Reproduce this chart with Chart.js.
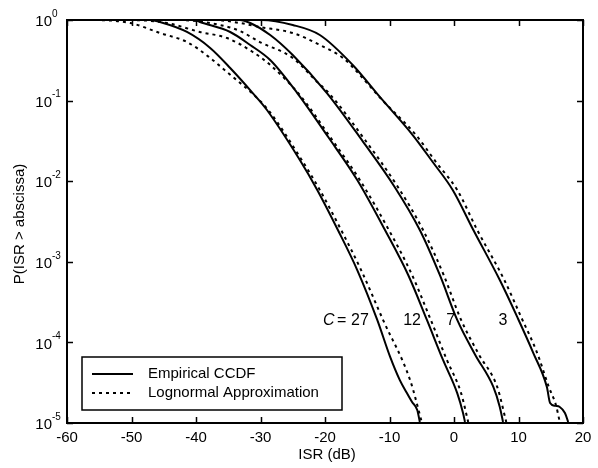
<!DOCTYPE html>
<html>
<head>
<meta charset="utf-8">
<script src="https://cdn.jsdelivr.net/npm/chart.js@4.4.0/dist/chart.umd.min.js"></script>
<style>
  html, body { margin: 0; padding: 0; background: #fff; }
  canvas { display: block; }
</style>
</head>
<body>
<canvas id="chart" width="598" height="468"></canvas>
<script>
// axis ticks
const xTicks = [-60, -50, -40, -30, -20, -10, 0, 10, 20];
const yTicks = [1, 1e-1, 1e-2, 1e-3, 1e-4, 1e-5];
const yTickExp = ['0', '-1', '-2', '-3', '-4', '-5'];

// C = 27
const c27EmpX = [-60, -47.1, -45.6, -41.4, -37.8, -34.7, -31.2, -29.0, -23.9, -21.2, -18.0, -15.0, -11.9, -9.9, -8.4, -7.3, -6.5, -5.7, -5.3];
const c27EmpP = [1, 1, 0.944, 0.71, 0.45, 0.254, 0.124, 0.0764, 0.0183, 0.00778, 0.00248, 0.00079, 0.00019, 6.6e-5, 3.4e-5, 2.35e-5, 1.82e-5, 1.45e-5, 1.03e-5];
const c27LogX = [-60, -55.7, -50.2, -45.6, -41.4, -37.8, -35.2, -31.2, -28.8, -23.6, -20.8, -17.5, -14.4, -11.0, -6.8, -5.0];
const c27LogP = [1, 0.998, 0.918, 0.69, 0.533, 0.338, 0.226, 0.121, 0.0764, 0.0183, 0.00778, 0.00248, 0.00079, 0.00019, 3.4e-5, 1.03e-5];

// C = 12
const c12EmpX = [-60, -40.2, -39.4, -34.7, -31.6, -28.5, -24.3, -19.5, -15.0, -10.7, -7.1, -4.2, -1.7, 0.5, 1.4, 1.7];
const c12EmpP = [1, 1, 0.944, 0.71, 0.49, 0.319, 0.124, 0.0353, 0.01035, 0.00248, 0.000686, 0.00019, 6.05e-5, 2.35e-5, 1.33e-5, 1.03e-5];
const c12LogX = [-60, -50.2, -44.5, -39.4, -35.2, -31.2, -28.5, -23.9, -19.2, -14.6, -10.1, -6.5, -3.6, -1.1, 1.1, 2.2];
const c12LogP = [1, 0.998, 0.918, 0.71, 0.598, 0.401, 0.277, 0.117, 0.0353, 0.01035, 0.00248, 0.000686, 0.00019, 6.05e-5, 2.35e-5, 1.03e-5];

// C = 7
const c7EmpX = [-60, -33.2, -31.6, -28.5, -25.0, -19.7, -14.3, -9.2, -5.3, -2.2, 0.5, 3.3, 6.1, 7.1, 7.6];
const c7EmpP = [1, 1, 0.918, 0.652, 0.368, 0.124, 0.0325, 0.00848, 0.00248, 0.000686, 0.00019, 6.98e-5, 2.8e-5, 1.58e-5, 1.03e-5];
const c7LogX = [-60, -42.5, -36.3, -33.2, -30.1, -25.0, -21.2, -19.4, -13.8, -8.7, -4.8, -1.6, 1.1, 3.9, 6.7, 8.1];
const c7LogP = [1, 0.998, 0.867, 0.731, 0.533, 0.338, 0.17, 0.124, 0.0325, 0.00848, 0.00248, 0.000686, 0.00019, 6.98e-5, 2.8e-5, 1.03e-5];

// C = 3
const c3EmpX = [-60, -29.8, -25.0, -20.8, -15.7, -11.5, -6.4, -3.3, -0.2, 3.0, 7.1, 9.8, 12.3, 14.4, 14.9, 15.7, 16.4, 17.2, 17.7];
const c3EmpP = [1, 1, 0.867, 0.652, 0.277, 0.111, 0.0374, 0.0173, 0.00778, 0.00248, 0.000594, 0.000207, 7.38e-5, 2.8e-5, 1.77e-5, 1.63e-5, 1.58e-5, 1.33e-5, 1.03e-5];
const c3LogX = [-60, -37.1, -33.2, -30.1, -25.0, -20.8, -17.2, -15.0, -11.3, -5.9, -2.8, 0.5, 3.6, 7.8, 10.4, 12.9, 14.7, 15.8, 16.4];
const c3LogP = [1, 0.998, 0.918, 0.819, 0.69, 0.49, 0.338, 0.226, 0.105, 0.0374, 0.0173, 0.00778, 0.00248, 0.000594, 0.000207, 7.38e-5, 2.8e-5, 1.67e-5, 1.03e-5];

const curveLabels = ['27', '12', '7', '3'];
const legendLabels = ['Empirical CCDF', 'Lognormal Approximation'];

const FONT = '"Liberation Sans", Arial, Helvetica, sans-serif';
const DOTS = [3, 4];

function pts(xs, ps) {
  return xs.map((x, i) => ({ x: x, y: ps[i] }));
}

function solid(xs, ps) {
  return { data: pts(xs, ps), borderColor: '#000', borderWidth: 2, pointRadius: 0, showLine: true,
           cubicInterpolationMode: 'monotone' };
}

function dotted(xs, ps) {
  return { data: pts(xs, ps), borderColor: '#000', borderWidth: 2, borderDash: DOTS, pointRadius: 0, showLine: true,
           cubicInterpolationMode: 'monotone' };
}

const decor = {
  id: 'decor',
  afterDraw(chart) {
    const ctx = chart.ctx;
    const a = chart.chartArea;
    const xs = chart.scales.x, ys = chart.scales.y;
    ctx.save();
    ctx.fillStyle = '#000';
    ctx.strokeStyle = '#000';

    // box + inward ticks
    ctx.lineWidth = 2;
    ctx.strokeRect(a.left, a.top, a.right - a.left, a.bottom - a.top);
    ctx.lineWidth = 1.5;
    ctx.beginPath();
    xTicks.forEach(v => {
      const px = Math.round(xs.getPixelForValue(v)) + 0.5;
      ctx.moveTo(px, a.bottom); ctx.lineTo(px, a.bottom - 6);
      ctx.moveTo(px, a.top); ctx.lineTo(px, a.top + 6);
    });
    yTicks.forEach(v => {
      const py = Math.round(ys.getPixelForValue(v)) + 0.5;
      ctx.moveTo(a.left, py); ctx.lineTo(a.left + 6, py);
      ctx.moveTo(a.right, py); ctx.lineTo(a.right - 6, py);
    });
    ctx.stroke();

    // x tick labels
    ctx.font = '15px ' + FONT;
    ctx.textAlign = 'center';
    ctx.textBaseline = 'top';
    xTicks.forEach(v => ctx.fillText(String(v), xs.getPixelForValue(v), a.bottom + 7));

    // y tick labels 10^n
    yTicks.forEach((v, i) => {
      const py = ys.getPixelForValue(v);
      ctx.font = '15px ' + FONT;
      ctx.textAlign = 'right';
      ctx.textBaseline = 'middle';
      ctx.fillText('10', a.left - 15, py + 2);
      ctx.font = '10px ' + FONT;
      ctx.textAlign = 'left';
      ctx.fillText(yTickExp[i], a.left - 15, py - 6);
    });

    // axis titles
    ctx.font = '15px ' + FONT;
    ctx.textAlign = 'center';
    ctx.textBaseline = 'middle';
    ctx.fillText('ISR (dB)', (a.left + a.right) / 2 + 2, 455);
    ctx.save();
    ctx.translate(20, 224);
    ctx.rotate(-Math.PI / 2);
    ctx.fillText('P(ISR > abscissa)', 0, 0);
    ctx.restore();

    // curve labels
    const ly = ys.getPixelForValue(1.85e-4);
    ctx.textBaseline = 'middle';
    ctx.textAlign = 'left';
    const lx = xs.getPixelForValue(-20.3);
    ctx.font = 'italic 16px ' + FONT;
    ctx.fillText('C', lx, ly);
    ctx.font = '16px ' + FONT;
    ctx.fillText('=', lx + 14, ly);
    ctx.fillText(curveLabels[0], lx + 28, ly);
    ctx.textAlign = 'center';
    ctx.fillText(curveLabels[1], xs.getPixelForValue(-6.5), ly);
    ctx.fillText(curveLabels[2], xs.getPixelForValue(-0.5), ly);
    ctx.fillText(curveLabels[3], xs.getPixelForValue(7.6), ly);

    // legend box
    const bx = a.left + 15, by = 357, bw = 260, bh = 53;
    ctx.fillStyle = '#fff';
    ctx.fillRect(bx, by, bw, bh);
    ctx.fillStyle = '#000';
    ctx.lineWidth = 1.5;
    ctx.strokeRect(bx, by, bw, bh);
    ctx.lineWidth = 2;
    ctx.beginPath();
    ctx.moveTo(bx + 10, by + 17); ctx.lineTo(bx + 51, by + 17);
    ctx.stroke();
    ctx.setLineDash(DOTS);
    ctx.beginPath();
    ctx.moveTo(bx + 10, by + 36); ctx.lineTo(bx + 51, by + 36);
    ctx.stroke();
    ctx.setLineDash([]);
    ctx.font = '15px ' + FONT;
    ctx.textAlign = 'left';
    ctx.textBaseline = 'middle';
    ctx.fillText(legendLabels[0], bx + 66, by + 17);
    ctx.fillText(legendLabels[1], bx + 66, by + 36);

    ctx.restore();
  }
};

new Chart(document.getElementById('chart'), {
  type: 'scatter',
  data: {
    datasets: [
      solid(c27EmpX, c27EmpP), dotted(c27LogX, c27LogP),
      solid(c12EmpX, c12EmpP), dotted(c12LogX, c12LogP),
      solid(c7EmpX, c7EmpP), dotted(c7LogX, c7LogP),
      solid(c3EmpX, c3EmpP), dotted(c3LogX, c3LogP)
    ]
  },
  options: {
    responsive: false,
    animation: false,
    layout: { padding: { left: 67, right: 15, top: 20, bottom: 45 } },
    plugins: { legend: { display: false }, tooltip: { enabled: false } },
    scales: {
      x: { type: 'linear', min: -60, max: 20, display: false },
      y: { type: 'logarithmic', min: 1e-5, max: 1, display: false }
    }
  },
  plugins: [decor]
});
</script>
</body>
</html>
